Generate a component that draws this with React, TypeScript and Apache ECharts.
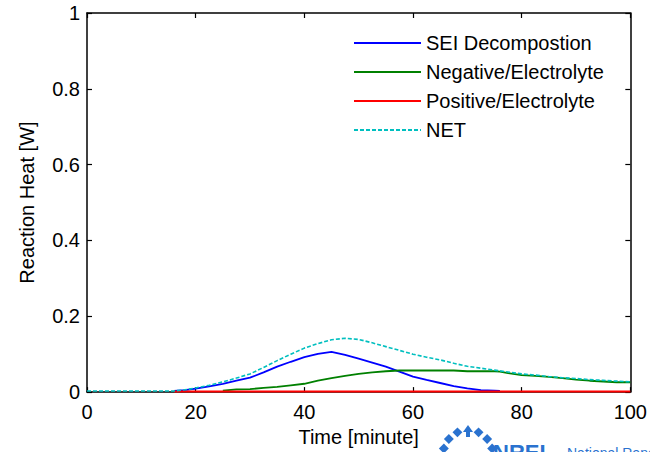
import React, { useEffect, useRef } from "react";
import * as echarts from "echarts";

// Time axis (minutes) shared by every series
const timeMin = [0, 16, 18, 20, 22.5, 25, 27.5, 30, 32.5, 35, 37.5, 40, 42.5, 45, 47.5, 50, 52.5, 55, 57.5, 60, 62.5, 65, 67.5, 70, 72.5, 75, 76, 77.5, 80, 82.5, 85, 87.5, 90, 92.5, 95, 97.5, 100];

// Reaction heat [W]; null where the reaction has not started / has ended
const seiHeat = [null, 0.003, 0.005, 0.009, 0.015, 0.022, 0.030, 0.038, 0.052, 0.067, 0.080, 0.092, 0.101, 0.106, 0.098, 0.088, 0.078, 0.067, 0.054, 0.041, 0.032, 0.024, 0.016, 0.010, 0.005, 0.004, 0.003, null, null, null, null, null, null, null, null, null, null];
const negHeat = [null, null, null, null, null, 0.004, 0.007, 0.008, 0.011, 0.014, 0.018, 0.022, 0.030, 0.037, 0.043, 0.048, 0.052, 0.055, 0.057, 0.057, 0.057, 0.057, 0.057, 0.055, 0.055, 0.055, 0.054, 0.050, 0.045, 0.043, 0.040, 0.037, 0.033, 0.030, 0.028, 0.026, 0.026];
const posHeat = [null, 0.0015, 0.0015, 0.0015, 0.0015, 0.0015, 0.0015, 0.0015, 0.0015, 0.0015, 0.0015, 0.0015, 0.0015, 0.0015, 0.0015, 0.0015, 0.0015, 0.0015, 0.0015, 0.0015, 0.0015, 0.0015, 0.0015, 0.0015, 0.0015, 0.0015, 0.0015, 0.0015, 0.0015, 0.0015, 0.0015, 0.0015, 0.0015, 0.0015, 0.0015, 0.0015, 0.0015];
const netHeat = [0.003, 0.003, 0.006, 0.011, 0.018, 0.027, 0.037, 0.048, 0.065, 0.083, 0.100, 0.116, 0.128, 0.138, 0.142, 0.139, 0.130, 0.120, 0.110, 0.100, 0.092, 0.085, 0.076, 0.068, 0.063, 0.058, 0.056, 0.053, 0.048, 0.045, 0.041, 0.038, 0.036, 0.033, 0.031, 0.029, 0.027];

const seriesNames = ["SEI Decompostion", "Negative/Electrolyte", "Positive/Electrolyte", "NET"];
const xTicks = { min: 0, max: 100, interval: 20 };
const yTicks = { min: 0, max: 1, interval: 0.2 };

const FONT = "'Liberation Sans', Arial, Helvetica, sans-serif";
const LOGO_BLUE = "#2a72cf";

const pairs = (ys: (number | null)[]) => timeMin.map((t, i) => [t, ys[i]]);

export default function App() {
  const ref = useRef<HTMLDivElement>(null);

  useEffect(() => {
    document.body.style.margin = "0";
    if (!ref.current) return;
    const chart = echarts.init(ref.current, null, { renderer: "svg" });

    const axisLine = { show: true, onZero: false, lineStyle: { color: "#000", width: 1.5 } };
    const tickIn = { show: true, inside: true, length: 5, lineStyle: { color: "#000", width: 1.2 } };
    const labelStyle = { color: "#000", fontSize: 20, fontFamily: FONT };

    // NREL mark: diamonds arranged on an arc with an arrow at the top
    const cx = 468, cy = 455, r = 25;
    const diamonds = [-75, -50, -25, 25, 50, 75].map((deg) => {
      const a = (deg * Math.PI) / 180;
      return {
        type: "rect",
        x: cx + r * Math.sin(a),
        y: cy - r * Math.cos(a),
        rotation: Math.PI / 4,
        shape: { x: -3.5, y: -3.5, width: 7, height: 7 },
        style: { fill: LOGO_BLUE },
      };
    });

    const lineSeries = (name: string, ys: (number | null)[], color: string, width: number, type: any = "solid") => ({
      name,
      type: "line",
      data: pairs(ys),
      showSymbol: false,
      symbol: "none",
      lineStyle: { color, width, type },
      itemStyle: { color },
    });

    chart.setOption({
      animation: false,
      grid: { left: 87, right: 18, top: 13, bottom: 57, containLabel: false },
      legend: {
        orient: "vertical",
        left: 353,
        top: 33,
        padding: 0,
        itemWidth: 67,
        itemHeight: 14,
        itemGap: 9,
        itemStyle: { opacity: 0, borderWidth: 0 },
        textStyle: { ...labelStyle, lineHeight: 20 },
        data: seriesNames,
      },
      xAxis: [
        {
          type: "value",
          ...xTicks,
          position: "bottom",
          name: "Time [minute]",
          nameLocation: "middle",
          nameGap: 32,
          nameTextStyle: labelStyle,
          axisLine,
          axisTick: tickIn,
          axisLabel: { ...labelStyle, margin: 10 },
          splitLine: { show: false },
        },
        {
          type: "value",
          ...xTicks,
          position: "top",
          axisLine,
          axisTick: tickIn,
          axisLabel: { show: false },
          splitLine: { show: false },
        },
      ],
      yAxis: [
        {
          type: "value",
          ...yTicks,
          position: "left",
          name: "Reaction Heat [W]",
          nameLocation: "middle",
          nameGap: 50,
          nameTextStyle: labelStyle,
          axisLine,
          axisTick: tickIn,
          axisLabel: { ...labelStyle, margin: 7 },
          splitLine: { show: false },
        },
        {
          type: "value",
          ...yTicks,
          position: "right",
          axisLine,
          axisTick: tickIn,
          axisLabel: { show: false },
          splitLine: { show: false },
        },
      ],
      series: [
        lineSeries(seriesNames[0], seiHeat, "#0000ff", 1.8),
        lineSeries(seriesNames[1], negHeat, "#008000", 1.8),
        lineSeries(seriesNames[2], posHeat, "#ff0000", 2),
        lineSeries(seriesNames[3], netHeat, "#00bfbf", 1.6, [4, 2]),
      ],
      graphic: [
        ...diamonds,
        {
          type: "polygon",
          shape: { points: [[468, 425], [463, 432], [473, 432]] },
          style: { fill: LOGO_BLUE },
        },
        {
          type: "rect",
          shape: { x: 466, y: 431, width: 4, height: 6 },
          style: { fill: LOGO_BLUE },
        },
        {
          type: "text",
          x: 493,
          y: 441,
          style: {
            text: "NREL",
            fill: LOGO_BLUE,
            font: `bold 22px ${FONT}`,
            verticalAlign: "top",
          },
        },
        {
          type: "text",
          x: 567,
          y: 446,
          style: {
            text: "National Renewable Energy Laboratory",
            fill: LOGO_BLUE,
            font: `14px ${FONT}`,
            verticalAlign: "top",
          },
        },
      ],
    });

    return () => chart.dispose();
  }, []);

  return <div ref={ref} style={{ width: 650, height: 452 }} />;
}
